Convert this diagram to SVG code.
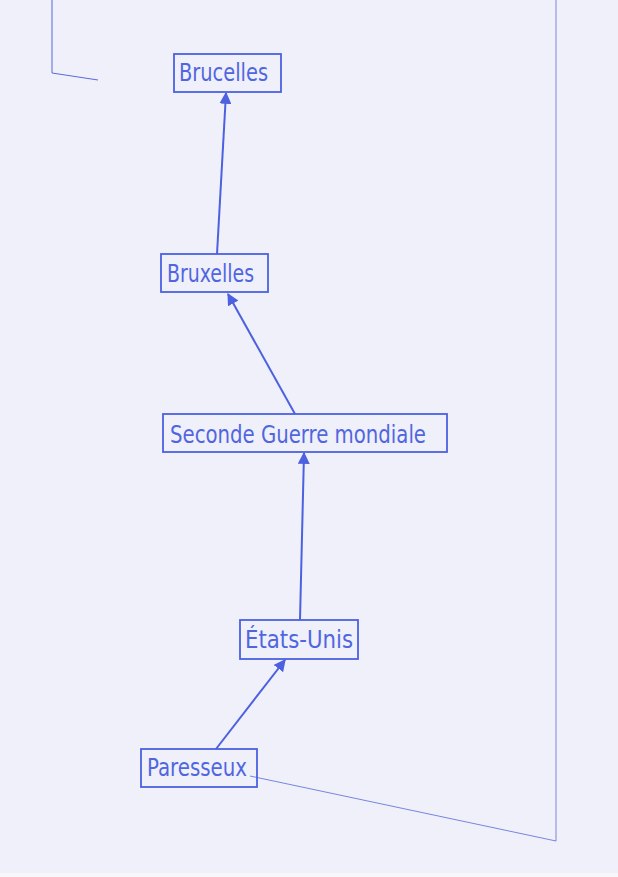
<svg xmlns="http://www.w3.org/2000/svg" width="618" height="877" viewBox="0 0 618 877">
<defs>
<style>
.box{fill:none;stroke:#4c60e0;stroke-width:1.8}
.lbl{font-family:"DejaVu Sans Condensed","DejaVu Sans",sans-serif;font-size:25px;fill:#5066e0}
.edge{stroke:#4c60e0;stroke-width:2;fill:none;marker-end:url(#ah)}
.page{stroke:#5a6ad8;fill:none;stroke-width:1}
</style>
<marker id="ah" viewBox="0 0 10 10" refX="9" refY="5" markerWidth="6" markerHeight="6" orient="auto" markerUnits="strokeWidth">
<path d="M0,0 L10,5 L0,10 z" fill="#4c60e0"/>
</marker>
</defs>
<rect width="618" height="877" fill="#eff0fa"/>
<rect y="873" width="618" height="4" fill="#f7f7fa"/>
<g id="page-edges">
<path class="page" d="M52,0 L52,73 L98,80"/>
<path class="page" d="M556,0 L556,841 L250,776" stroke-opacity="0.8"/>
</g>
<g id="connectors">
<line class="edge" x1="217" y1="254" x2="226" y2="93"/>
<line class="edge" x1="295" y1="414" x2="228" y2="294"/>
<line class="edge" x1="300" y1="620" x2="304" y2="453"/>
<line class="edge" x1="216" y1="749" x2="285" y2="660"/>
</g>
<g id="n-brucelles">
<rect class="box" x="174" y="54" width="107" height="38"/>
<text class="lbl" x="179" y="81" textLength="89" lengthAdjust="spacingAndGlyphs">Brucelles</text>
</g>
<g id="n-bruxelles">
<rect class="box" x="161" y="254" width="107" height="38"/>
<text class="lbl" x="167" y="282" textLength="87" lengthAdjust="spacingAndGlyphs">Bruxelles</text>
</g>
<g id="n-seconde">
<rect class="box" x="163" y="414" width="284" height="38"/>
<text class="lbl" x="170" y="443" textLength="256" lengthAdjust="spacingAndGlyphs">Seconde Guerre mondiale</text>
</g>
<g id="n-etats">
<rect class="box" x="240" y="620" width="118" height="39"/>
<text class="lbl" x="245" y="648" textLength="108" lengthAdjust="spacingAndGlyphs">États-Unis</text>
</g>
<g id="n-paresseux">
<rect class="box" x="141" y="749" width="116" height="38"/>
<text class="lbl" x="147" y="776" textLength="100" lengthAdjust="spacingAndGlyphs">Paresseux</text>
</g>
</svg>
